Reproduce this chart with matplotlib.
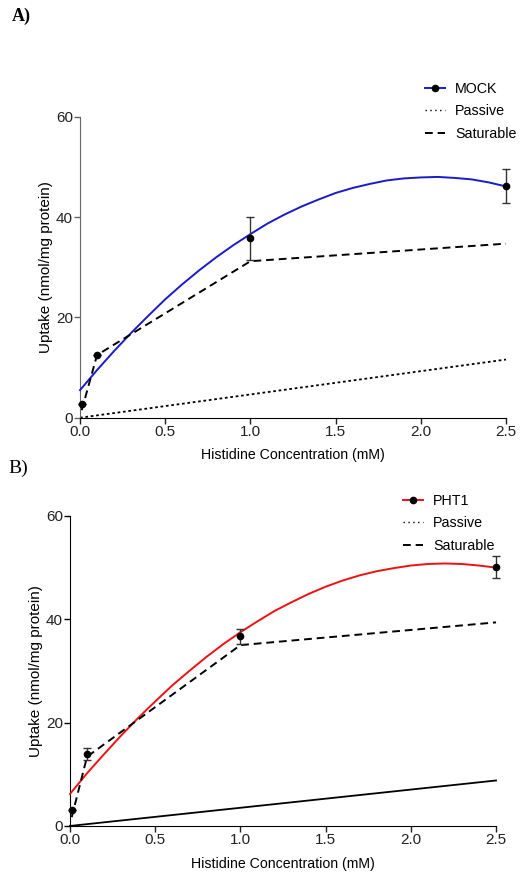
import matplotlib
matplotlib.use('Agg')
import matplotlib.pyplot as plt
from matplotlib.lines import Line2D

plt.rcParams['font.family'] = ['Liberation Sans', 'DejaVu Sans']

# measured points
conc = [0.01, 0.1, 1.0, 2.5]
mock_mean = [2.7, 12.5, 35.8, 46.2]
mock_err = [0.0, 0.0, 4.3, 3.3]
pht1_mean = [3.0, 13.9, 36.7, 50.1]
pht1_err = [0.0, 1.1, 1.4, 2.1]

# saturable and passive components
mock_sat = [1.5, 12.5, 31.2, 34.7]
pht1_sat = [1.7, 13.4, 35.0, 39.4]
passive_x = [0.0, 2.5]
mock_passive = [0.0, 11.6]
pht1_passive = [0.0, 8.8]

# fitted curves
fit_x = [0.0, 0.1, 0.2, 0.3, 0.4, 0.5, 0.6, 0.7, 0.8, 0.9, 1.0, 1.1, 1.2,
         1.3, 1.4, 1.5, 1.6, 1.7, 1.8, 1.9, 2.0, 2.1, 2.2, 2.3, 2.4, 2.5]
mock_fit = [5.5, 9.5, 13.3, 16.9, 20.3, 23.6, 26.6, 29.4, 32.0, 34.4, 36.6,
            38.7, 40.5, 42.1, 43.5, 44.8, 45.8, 46.6, 47.3, 47.7, 47.9, 48.0,
            47.8, 47.5, 46.9, 46.1]
pht1_fit = [6.2, 10.2, 13.9, 17.5, 20.9, 24.1, 27.2, 30.0, 32.7, 35.2, 37.5,
            39.6, 41.6, 43.3, 44.9, 46.3, 47.5, 48.5, 49.3, 49.9, 50.4, 50.7,
            50.8, 50.7, 50.4, 50.0]

xticks = [0.0, 0.5, 1.0, 1.5, 2.0, 2.5]
yticks = [0, 20, 40, 60]

fig = plt.figure(figsize=(5.24, 8.77), dpi=100)
ax_a = fig.add_axes([0.1527, 0.5237, 0.8130, 0.3432])
ax_b = fig.add_axes([0.1336, 0.0582, 0.8130, 0.3535])


def draw_panel(ax, fit, color, mean, err, sat, passive, passive_ls, name,
               spine_col, leg_xy):
    ax.plot(fit_x, fit, color=color, lw=1.4, clip_on=False, zorder=3)
    ax.plot(conc, sat, color='black', ls=(0, (4, 2.5)), lw=1.4,
            clip_on=False, zorder=4)
    ax.plot(passive_x, passive, color='black', ls=passive_ls, lw=1.3,
            clip_on=False, zorder=2)
    ax.errorbar(conc, mean, yerr=err, fmt='o', color='black', ms=4.5,
                ecolor='#333333', elinewidth=1.0, capsize=3, capthick=1.0,
                clip_on=False, zorder=5)
    ax.set_xlim(0, 2.5)
    ax.set_ylim(0, 60)
    ax.set_xticks(xticks)
    ax.set_xticklabels(['%.1f' % t for t in xticks])
    ax.set_yticks(yticks)
    for s in ['top', 'right']:
        ax.spines[s].set_visible(False)
    ax.spines['left'].set_color(spine_col)
    ax.spines['bottom'].set_color('black')
    ax.tick_params(direction='out', length=4, width=1, labelsize=11,
                   pad=1, colors='#222222')
    ax.tick_params(axis='y', color=spine_col)
    ax.set_xlabel('Histidine Concentration (mM)', fontsize=10.2, labelpad=7)
    ax.set_ylabel('Uptake (nmol/mg protein)', fontsize=11, labelpad=2)

    handles = [
        Line2D([], [], color=color, lw=1.4, marker='o', ms=4.5,
               mfc='black', mec='black'),
        Line2D([], [], color='black', ls=(0, (1, 2.5)), lw=1.0),
        Line2D([], [], color='black', ls=(0, (4, 2.5)), lw=1.4),
    ]
    fig.legend(handles, [name, 'Passive', 'Saturable'], loc='upper left',
               bbox_to_anchor=leg_xy, frameon=False, fontsize=10.3,
               handlelength=1.4, handletextpad=0.7, labelspacing=0.58,
               borderaxespad=0, borderpad=0)


draw_panel(ax_a, mock_fit, '#1a1acc', mock_mean, mock_err, mock_sat,
           mock_passive, (0, (1.5, 1.5)), 'MOCK', '#666666',
           (425 / 524, 1 - 82 / 877))
draw_panel(ax_b, pht1_fit, '#ee1111', pht1_mean, pht1_err, pht1_sat,
           pht1_passive, '-', 'PHT1', 'black',
           (403 / 524, 1 - 494 / 877))

fig.text(12 / 524, 1 - 16 / 877, 'A)', family='Liberation Serif',
         fontweight='bold', fontsize=13, va='center', ha='left')
fig.text(8 / 524, 1 - 468 / 877, 'B)', family='Liberation Serif',
         fontsize=14, va='center', ha='left')

fig.savefig('out.png', dpi=100)
